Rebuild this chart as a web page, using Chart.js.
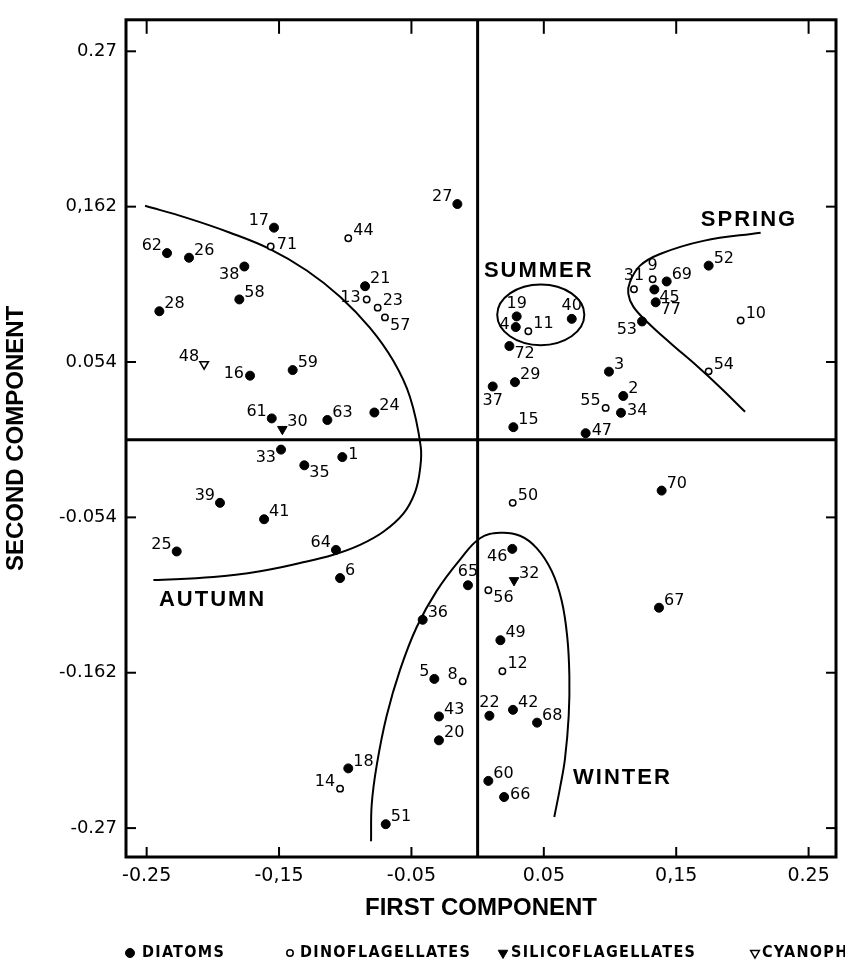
<!DOCTYPE html>
<html>
<head>
<meta charset="utf-8">
<script src="https://cdn.jsdelivr.net/npm/chart.js@4.4.0/dist/chart.umd.min.js"></script>
<style>
  html, body { margin: 0; padding: 0; background: #fff; }
  canvas { display: block; }
</style>
</head>
<body>
<canvas id="myChart" width="845" height="963"></canvas>
<script>
// species numbers and their first / second component loadings
const diatomIds = [62, 26, 17, 38, 58, 28, 16, 59, 61, 63, 24, 21, 27, 19, 4, 40, 72, 29, 37, 15, 3, 2, 34, 47, 69, 45, 77, 53, 52,
  33, 35, 1, 39, 41, 25, 64, 6, 65, 36, 5, 43, 20, 18, 51, 70, 46, 67, 49, 22, 42, 68, 60, 66];
const diatomX = [-0.2346, -0.218, -0.1538, -0.1762, -0.180, -0.2404, -0.1719, -0.1397, -0.1555, -0.1135, -0.078, -0.085, -0.0153,
  0.0295, 0.0288, 0.0711, 0.024, 0.0282, 0.0114, 0.027, 0.0992, 0.110, 0.1083, 0.0816, 0.1428, 0.1335, 0.1345, 0.1242, 0.1745,
  -0.1485, -0.1309, -0.1022, -0.1946, -0.1613, -0.2273, -0.107, -0.1039, -0.0073, -0.0415, -0.0327, -0.0292, -0.0292, -0.0977,
  -0.0694, 0.139, 0.0262, 0.137, 0.0172, 0.0089, 0.0267, 0.0449, 0.0081, 0.020];
const diatomY = [0.1297, 0.1265, 0.1474, 0.1204, 0.0975, 0.0893, 0.0445, 0.0484, 0.0148, 0.0137, 0.0189, 0.1067, 0.1638,
  0.0857, 0.0783, 0.084, 0.0651, 0.040, 0.037, 0.0087, 0.0473, 0.0304, 0.0187, 0.0045, 0.110, 0.1044, 0.0955, 0.0822, 0.121,
  -0.0069, -0.0178, -0.0121, -0.0439, -0.0553, -0.0777, -0.0766, -0.0962, -0.1012, -0.1252, -0.1663, -0.1924, -0.209, -0.2285,
  -0.2673, -0.0354, -0.0759, -0.1168, -0.1394, -0.1919, -0.1878, -0.1967, -0.2372, -0.2484];

const dinoIds = [71, 44, 13, 23, 57, 11, 55, 31, 9, 10, 54, 8, 14, 50, 56, 12];
const dinoX = [-0.1563, -0.0977, -0.0838, -0.0755, -0.070, 0.0383, 0.0967, 0.1181, 0.1322, 0.1987, 0.1745, -0.0113, -0.1039, 0.0265, 0.0081, 0.0187];
const dinoY = [0.1343, 0.140, 0.0975, 0.0918, 0.085, 0.0754, 0.0221, 0.1046, 0.1115, 0.0829, 0.0475, -0.168, -0.2426, -0.0439, -0.1047, -0.161];

const silicoIds = [30, 32];
const silicoX = [-0.1475, 0.0275];
const silicoY = [0.0073, -0.0978];

const cyanoIds = [48];
const cyanoX = [-0.2066];
const cyanoY = [0.0525];

// season boundaries
const autumnX = [-0.2512, -0.2197, -0.187, -0.1568, -0.1291, -0.1039, -0.0813, -0.0637, -0.0511, -0.043,
  -0.0435, -0.0473, -0.0561, -0.0712, -0.0888, -0.109, -0.1341, -0.1643, -0.1996, -0.2449];
const autumnY = [0.1626, 0.1542, 0.1439, 0.1325, 0.1176, 0.0994, 0.0777, 0.0548, 0.0297, -0.0046,
  -0.0206, -0.0366, -0.0514, -0.064, -0.0731, -0.08, -0.0857, -0.0914, -0.0955, -0.0976];
const springX = [0.2138, 0.1705, 0.1378, 0.1227, 0.1151, 0.1138, 0.1176, 0.1277, 0.1453, 0.1655, 0.1831, 0.202];
const springY = [0.1439, 0.1382, 0.1291, 0.121, 0.1097, 0.1016, 0.0925, 0.0822, 0.0674, 0.0514, 0.0365, 0.0194];
const winterX = [-0.0805, -0.08, -0.0762, -0.0687, -0.0586, -0.046, -0.0309, -0.0133, 0.0018, 0.0169, 0.032, 0.0446,
  0.056, 0.0635, 0.0677, 0.0693, 0.0688, 0.066, 0.0622, 0.0579];
const winterY = [-0.2792, -0.2536, -0.2262, -0.1919, -0.16, -0.1302, -0.1051, -0.0834, -0.0685, -0.0647, -0.0668, -0.0754,
  -0.0914, -0.112, -0.1371, -0.1645, -0.1919, -0.2217, -0.2422, -0.2623];
const summerCenter = [0.0477, 0.0868];
const summerRadii = [0.0329, 0.0211];

const seasonNames = ['SUMMER', 'SPRING', 'AUTUMN', 'WINTER'];
const seasonX = [0.0462, 0.2050, -0.2002, 0.1094];
const seasonY = [0.1172, 0.1531, -0.1113, -0.2349];

const xTicks = [-0.25, -0.15, -0.05, 0.05, 0.15, 0.25];
const xTickLabels = ['-0.25', '-0,15', '-0.05', '0.05', '0,15', '0.25'];
const yTicks = [0.27, 0.162, 0.054, -0.054, -0.162, -0.27];
const yTickLabels = ['0.27', '0,162', '0.054', '-0.054', '-0.162', '-0.27'];

// where each number sits relative to its marker
const labelSide = {
  62: 'nw', 17: 'nw', 71: 'e', 38: 'sw', 48: 'nw', 16: 'w', 61: 'nw', 13: 'w', 57: 'se', 27: 'nw',
  19: 'n', 4: 'w', 40: 'n', 72: 'se', 37: 's', 55: 'nw', 34: 'e', 47: 'e', 31: 'n', 9: 'n', 45: 'se',
  77: 'se', 53: 'sw', 33: 'sw', 35: 'se', 1: 'e', 39: 'nw', 25: 'nw', 64: 'nw', 65: 'n', 5: 'nw',
  8: 'nw', 14: 'nw', 46: 'sw', 56: 'se', 22: 'n', 66: 'e'
};
const sideOffset = {
  ne: [5, -7, 'left'], nw: [-5, -7, 'right'], e: [6, -2, 'left'], w: [-6, -2, 'right'],
  se: [5, 8, 'left'], sw: [-5, 8, 'right'], n: [0, -13, 'center'], s: [0, 14, 'center']
};

const pts = (xs, ys) => xs.map((x, i) => ({ x, y: ys[i] }));
const groupIds = [diatomIds, dinoIds, silicoIds, cyanoIds];

const curve = (xs, ys) => ({
  data: pts(xs, ys),
  showLine: true,
  tension: 0.4,
  pointRadius: 0,
  borderColor: '#000',
  borderWidth: 2
});

const decorations = {
  id: 'decorations',
  afterDraw(chart) {
    const { ctx, chartArea: a, scales: { x, y } } = chart;
    const line = (x1, y1, x2, y2) => { ctx.beginPath(); ctx.moveTo(x1, y1); ctx.lineTo(x2, y2); ctx.stroke(); };
    ctx.save();
    ctx.strokeStyle = '#000';
    ctx.fillStyle = '#000';

    // summer loop
    const cx = x.getPixelForValue(summerCenter[0]);
    const cy = y.getPixelForValue(summerCenter[1]);
    const rx = x.getPixelForValue(summerCenter[0] + summerRadii[0]) - cx;
    const ry = cy - y.getPixelForValue(summerCenter[1] + summerRadii[1]);
    ctx.lineWidth = 2;
    ctx.beginPath();
    ctx.ellipse(cx, cy, rx, ry, 0, 0, Math.PI * 2);
    ctx.stroke();

    // frame and zero lines
    ctx.lineWidth = 3;
    ctx.strokeRect(a.left, a.top, a.right - a.left, a.bottom - a.top);
    line(x.getPixelForValue(0), a.top, x.getPixelForValue(0), a.bottom);
    line(a.left, y.getPixelForValue(0), a.right, y.getPixelForValue(0));

    // inward ticks
    ctx.lineWidth = 2;
    xTicks.forEach(v => {
      const px = x.getPixelForValue(v);
      line(px, a.top, px, a.top + 14);
      line(px, a.bottom, px, a.bottom - 10);
    });
    yTicks.forEach(v => {
      const py = y.getPixelForValue(v);
      line(a.left, py, a.left + 10, py);
      line(a.right, py, a.right - 10, py);
    });

    // species numbers
    ctx.font = '16px "DejaVu Sans"';
    ctx.textBaseline = 'middle';
    groupIds.forEach((ids, di) => {
      chart.getDatasetMeta(di).data.forEach((el, i) => {
        const o = sideOffset[labelSide[ids[i]] || 'ne'];
        ctx.textAlign = o[2];
        ctx.fillText(String(ids[i]), el.x + o[0], el.y + o[1]);
      });
    });

    // season names
    ctx.font = 'bold 22px "Liberation Sans"';
    ctx.letterSpacing = '2px';
    ctx.textAlign = 'center';
    seasonNames.forEach((s, i) => {
      ctx.fillText(s, x.getPixelForValue(seasonX[i]), y.getPixelForValue(seasonY[i]));
    });

    // legend row
    ctx.letterSpacing = '1.3px';
    ctx.font = 'bold 16px "DejaVu Sans Condensed", "DejaVu Sans"';
    ctx.textAlign = 'left';
    const markX = [130, 290, 503, 755];
    const textX = [142, 300, 511, 762];
    const ly = 953;
    chart.data.datasets.slice(0, 4).forEach((ds, i) => {
      ctx.fillStyle = ds.backgroundColor;
      ctx.strokeStyle = ds.borderColor;
      ctx.lineWidth = ds.borderWidth;
      Chart.helpers.drawPoint(ctx, {
        pointStyle: ds.pointStyle, rotation: ds.rotation || 0,
        radius: ds.pointRadius, borderWidth: ds.borderWidth
      }, markX[i], ly);
      ctx.fillStyle = '#000';
      ctx.fillText(ds.label, textX[i], ly);
    });
    ctx.restore();
  }
};

new Chart(document.getElementById('myChart'), {
  type: 'scatter',
  data: {
    datasets: [
      { label: 'DIATOMS', data: pts(diatomX, diatomY), pointStyle: 'circle', pointRadius: 4.5,
        backgroundColor: '#000', borderColor: '#000', borderWidth: 1 },
      { label: 'DINOFLAGELLATES', data: pts(dinoX, dinoY), pointStyle: 'circle', pointRadius: 3.2,
        backgroundColor: '#fff', borderColor: '#000', borderWidth: 1.5 },
      { label: 'SILICOFLAGELLATES', data: pts(silicoX, silicoY), pointStyle: 'triangle', rotation: 180,
        pointRadius: 5.5, backgroundColor: '#000', borderColor: '#000', borderWidth: 1 },
      { label: 'CYANOPHYTA', data: pts(cyanoX, cyanoY), pointStyle: 'triangle', rotation: 180,
        pointRadius: 5, backgroundColor: '#fff', borderColor: '#000', borderWidth: 1.5 },
      curve(autumnX, autumnY),
      curve(springX, springY),
      curve(winterX, winterY)
    ]
  },
  options: {
    responsive: false,
    animation: false,
    layout: { padding: { top: 7, right: 9, left: 0, bottom: 0 } },
    plugins: { legend: { display: false }, tooltip: { enabled: false } },
    scales: {
      x: {
        type: 'linear', min: -0.2656, max: 0.2707, bounds: 'data',
        afterBuildTicks: s => { s.ticks = xTicks.map(value => ({ value })); },
        afterFit: s => { s.height = 106; },
        grid: { display: false, drawTicks: false },
        border: { display: false },
        ticks: {
          callback: v => xTickLabels[xTicks.indexOf(v)],
          font: { family: 'DejaVu Sans', size: 19 }, color: '#000',
          padding: 8, maxRotation: 0, autoSkip: false
        },
        title: {
          display: true, text: 'FIRST COMPONENT', color: '#000',
          font: { family: 'Liberation Sans', weight: 'bold', size: 24 },
          padding: { top: 0, bottom: 40 }
        }
      },
      y: {
        type: 'linear', min: -0.2901, max: 0.2919, bounds: 'data',
        afterBuildTicks: s => { s.ticks = yTicks.map(value => ({ value })); },
        afterFit: s => { s.width = 126; },
        grid: { display: false, drawTicks: false },
        border: { display: false },
        ticks: {
          callback: v => yTickLabels[yTicks.indexOf(v)],
          font: { family: 'DejaVu Sans', size: 18 }, color: '#000',
          padding: 9, autoSkip: false
        },
        title: {
          display: true, text: 'SECOND COMPONENT', color: '#000',
          font: { family: 'Liberation Sans', weight: 'bold', size: 24 },
          padding: { top: 2, bottom: 0 }
        }
      }
    }
  },
  plugins: [decorations]
});
</script>
</body>
</html>
